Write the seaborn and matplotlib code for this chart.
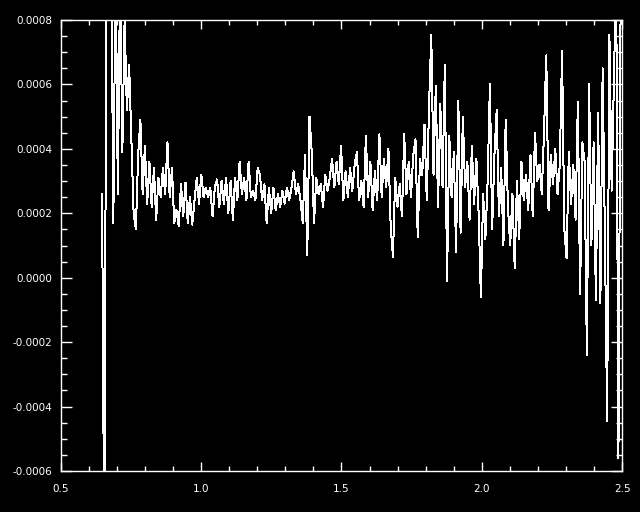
import seaborn as sns
import matplotlib.pyplot as plt
import numpy as np
import pandas as pd
from matplotlib.ticker import MultipleLocator, FormatStrFormatter

# values, in units of 1e-4
flux_e4 = [
    2.6, -9.0, 12.0, 12.0, 11.0, 1.7, 10.0, 2.6, 9.5, 3.9,
    8.0, 5.2, 6.6, 4.3, 2.0, 1.5, 3.8, 4.9, 2.6, 4.1,
    2.3, 3.6, 2.2, 3.4, 1.8, 3.1, 2.5, 3.4, 2.6, 4.2,
    2.5, 3.4, 1.7, 2.1, 1.6, 2.9, 1.9, 2.95, 1.7, 2.5,
    1.65, 2.4, 3.1, 2.3, 3.2, 2.5, 2.8, 2.5, 2.8, 1.9,
    2.8, 3.05, 2.2, 3.0, 2.3, 3.1, 2.0, 3.0, 1.8, 3.1,
    2.4, 3.6, 2.6, 3.1, 2.4, 3.6, 2.5, 2.7, 2.4, 3.4,
    3.2, 2.4, 2.9, 1.7, 2.8, 2.0, 2.8, 2.1, 2.6, 2.2,
    2.7, 2.3, 2.8, 2.4, 2.8, 3.3, 2.6, 2.9, 2.4, 1.7,
    3.8, 0.7, 5.0, 3.9, 1.7, 3.1, 2.6, 2.9, 2.2, 3.2,
    2.7, 3.1, 3.7, 2.8, 3.6, 2.9, 4.1, 2.4, 3.3, 2.5,
    3.4, 2.7, 3.5, 3.9, 2.4, 3.0, 2.2, 4.4, 2.5, 3.6,
    2.1, 3.3, 2.4, 4.45, 2.5, 3.7, 2.8, 4.0, 1.6, 0.65,
    3.1, 2.2, 2.9, 1.9, 4.45, 2.6, 3.6, 2.5, 3.8, 4.3,
    1.25, 3.7, 3.2, 4.75, 2.4, 5.3, 7.55, 3.2, 5.95, 2.2,
    5.4, 2.8, 6.6, -0.1, 4.4, 2.5, 3.9, 0.8, 5.5, 1.4,
    5.0, 2.8, 3.6, 1.8, 4.1, 2.3, 3.7, 2.0, -0.6, 2.6,
    1.2, 3.0, 6.0, 1.5, 3.8, 5.2, 1.9, 3.4, 1.0, 4.9,
    2.2, 1.0, 2.6, 0.3, 3.0, 1.2, 3.6, 2.4, 3.2, 2.1,
    3.8, 1.9, 4.5, 3.0, 3.5, 2.6, 4.5, 6.9, 2.1, 3.8,
    2.9, 4.0, 2.6, 3.5, 7.05, 1.5, 0.6, 3.9, 2.3, 3.5,
    1.8, 5.45, -0.5, 4.2, 3.6, -2.4, 6.0, 1.0, 4.2, -0.7,
    5.1, -0.8, 6.5, 1.3, -4.45, 7.55, 2.7, 6.2, 9.5, -5.6,
    9.0,
]
x_start, x_end = 0.647, 2.495
x_ticks = [0.5, 1.0, 1.5, 2.0, 2.5]
y_ticks = [-0.0006, -0.0004, -0.0002, 0.0, 0.0002, 0.0004, 0.0006, 0.0008]

df = pd.DataFrame({
    "x": np.linspace(x_start, x_end, len(flux_e4)),
    "y": np.array(flux_e4) * 1e-4,
})

sns.set_theme(style="ticks", rc={
    "figure.facecolor": "black",
    "axes.facecolor": "black",
    "axes.edgecolor": "white",
    "axes.linewidth": 1.0,
    "xtick.color": "white",
    "ytick.color": "white",
    "text.color": "white",
})
plt.rcParams['font.family'] = ['DejaVu Sans']

fig = plt.figure(figsize=(6.4, 5.12), dpi=100)
ax = fig.add_axes([0.095, 0.080, 0.877, 0.881])

sns.lineplot(data=df, x="x", y="y", color="white", linewidth=0.72,
             sort=False, estimator=None, antialiased=False, ax=ax)

ax.set_xlim(0.5, 2.5)
ax.set_ylim(-0.0006, 0.0008)
ax.set_xticks(x_ticks)
ax.set_yticks(y_ticks)
ax.xaxis.set_minor_locator(MultipleLocator(0.1))
ax.yaxis.set_minor_locator(MultipleLocator(0.00005))
ax.xaxis.set_major_formatter(FormatStrFormatter('%.1f'))
ax.yaxis.set_major_formatter(FormatStrFormatter('%.4f'))
ax.set_xlabel("")
ax.set_ylabel("")

ax.tick_params(axis="both", which="both", direction="in",
               top=True, right=True, colors="white", labelsize=7.5, width=1)
ax.tick_params(axis="x", which="major", length=6.5, pad=9)
ax.tick_params(axis="x", which="minor", length=3.3)
ax.tick_params(axis="y", which="major", length=8, pad=6)
ax.tick_params(axis="y", which="minor", length=4)
for s in ax.spines.values():
    s.set_visible(True)
    s.set_color("white")

fig.savefig("out.png", dpi=100, facecolor="black")
